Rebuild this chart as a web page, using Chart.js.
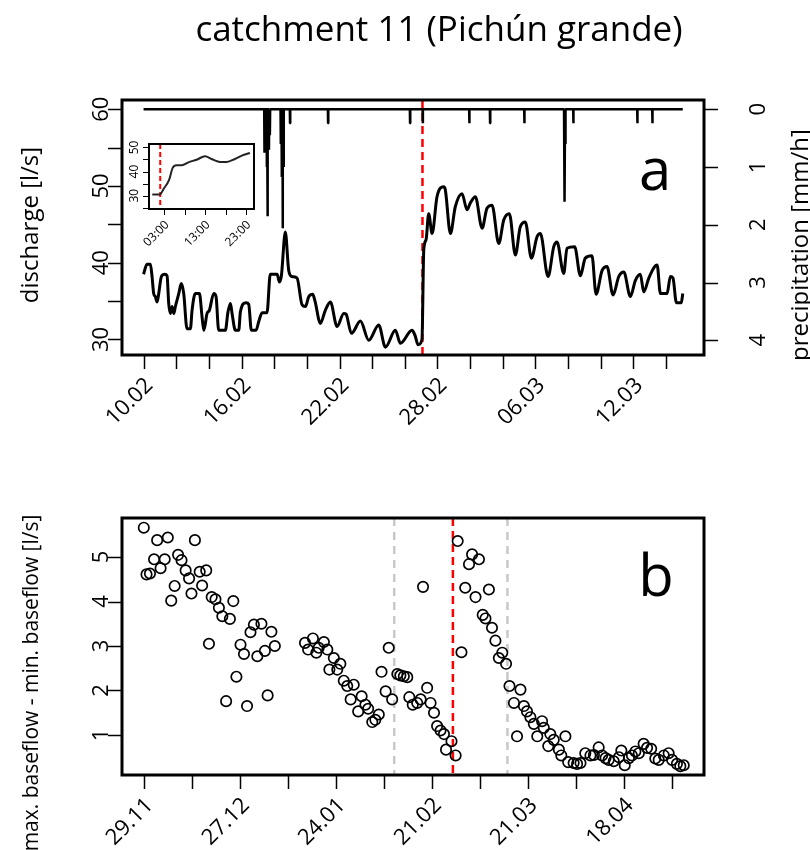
<!DOCTYPE html>
<html>
<head>
<meta charset="utf-8">
<script src="https://cdn.jsdelivr.net/npm/chart.js@4.4.1/dist/chart.umd.min.js"></script>
<style>
  body { margin: 0; background: #fff; }
  #wrap { position: relative; width: 810px; height: 850px; overflow: hidden; background: #fff; }
  canvas { position: absolute; }
  #topChart { left: 0; top: 0; }
  #bottomChart { left: 0; top: 440px; }
  #insetChart { left: 115px; top: 128px; }
</style>
</head>
<body>
<div id="wrap">
  <canvas id="topChart" width="810" height="440"></canvas>
  <canvas id="bottomChart" width="810" height="410"></canvas>
  <canvas id="insetChart" width="160" height="130"></canvas>
</div>
<script>
// ---- data (days since 10.02 for panel a, days since 29.11 for panel b) ----
const flowDays = [0,0.21,0.42,0.52,0.62,0.72,0.83,0.93,1.09,1.30,1.44,1.54,1.64,1.75,1.85,1.95,2.16,2.31,2.46,2.66,2.87,2.97,3.17,3.42,3.58,3.69,3.89,4.03,4.30,4.44,4.60,5.01,5.17,5.32,5.42,5.62,5.83,5.93,6.28,6.44,6.60,6.89,7.05,7.26,7.56,7.76,8.18,8.32,8.44,8.68,8.89,9.09,9.40,9.71,9.91,10.12,10.36,10.50,10.83,11.13,11.44,11.85,12.26,12.40,12.73,13.28,13.79,14.40,14.81,15.42,15.73,16.44,16.63,16.81,17.05,17.16,17.30,17.46,17.67,17.97,18.38,18.48,18.79,19.09,19.50,19.81,20.01,20.32,20.73,21.03,21.34,21.75,22.06,22.40,22.77,23.07,23.38,23.75,24.10,24.30,24.77,25.12,25.32,25.73,25.93,26.40,26.75,27.05,27.46,27.71,28.08,28.38,28.75,29.10,29.41,29.81,30.12,30.42,30.63,30.94,31.30,31.45,31.65,32.06,32.26,32.42,32.63,32.93,33.02];
const flowValues = [38.5,39.8,39.8,38.2,36.0,35.6,34.9,36.0,38.2,38.5,38.3,34.7,33.4,34.3,33.4,34.3,36.0,37.3,36.0,31.4,31.4,33.8,36.0,36.0,33.0,31.2,33.4,33.8,36.0,35.6,31.2,31.2,33.6,34.7,33.4,31.2,31.2,33.6,34.8,34.6,31.2,31.2,32.3,33.5,33.5,38.5,38.5,37.5,38.3,44.0,39.0,38.2,38.0,34.5,34.3,35.6,35.9,35.0,32.1,33.8,34.9,31.7,33.4,33.3,30.8,32.4,29.9,31.9,29.0,31.2,29.5,31.2,30.5,29.3,30.0,41.7,43.0,46.4,43.8,48.6,49.9,49.5,43.8,47.3,49.0,46.9,47.8,48.6,44.5,47.1,47.5,42.5,45.6,46.4,41.0,44.7,45.3,40.6,43.4,43.8,38.2,42.1,42.7,38.6,41.9,42.1,38.3,40.6,40.9,35.9,39.0,39.5,35.8,38.2,38.8,35.6,37.7,38.5,36.2,38.0,39.5,39.7,36.0,36.0,38.2,38.0,34.8,34.8,36.0];

const rainStart = 0;
const rainEnd = 33.02;
const rainSpikeDays = [7.40,7.48,7.55,7.60,7.68,7.74,8.40,8.46,8.52,8.58,8.97,11.30,16.32,17.10,19.95,21.22,23.32,25.76,25.80,25.84,26.32,30.24,31.16];
const rainSpikeValues = [0.75,0.70,1.00,1.85,0.70,0.45,0.60,1.17,2.06,1.00,0.24,0.24,0.24,0.24,0.24,0.24,0.24,0.70,1.60,0.60,0.24,0.24,0.24];

// zoom of the event day (hours of 27.02)
const insetHours = [0.06,1.95,2.75,4.2,5.05,6.0,7.3,8.9,10.9,13.0,14.6,16.7,18.3,20.3,22.0,24.0];
const insetValues = [30.5,30.5,32.6,36.7,41.5,42.6,42.6,43.8,44.9,46.3,45.2,44.0,44.0,45.2,46.6,47.7];

const rangeDays = [0.0,0.8,1.8,3.0,3.9,4.9,6.1,7.0,8.0,9.0,10.0,11.0,12.2,13.2,13.9,14.9,16.3,17.0,18.2,19.0,19.8,20.9,21.9,22.9,24.0,25.1,26.1,27.0,28.2,29.2,30.1,31.1,32.1,33.1,34.3,35.3,36.1,37.2,38.2,
  47.0,47.9,49.3,50.3,51.0,52.5,53.5,54.1,55.4,56.4,57.3,58.3,59.3,60.3,61.2,62.5,63.5,64.6,65.4,66.6,67.5,68.5,69.3,70.5,71.4,72.4,73.9,74.8,75.8,76.8,77.4,78.4,79.7,80.7,81.4,82.6,83.6,84.6,85.5,86.5,87.5,88.1,89.7,90.9,91.5,92.6,93.7,
  94.8,95.7,96.7,97.7,98.8,99.6,100.6,101.5,102.5,103.5,104.5,105.6,106.6,107.9,108.8,109.8,110.8,111.7,112.7,113.7,114.7,116.1,116.6,117.9,118.5,119.5,121.0,121.7,122.9,123.7,125.3,126.3,127.3,128.7,130.2,131.2,132.6,133.6,134.6,135.5,137.0,138.5,139.2,140.2,141.4,142.3,143.3,144.3,145.7,146.7,147.9,149.1,150.1,151.6,153.0,154.0,155.4,156.4,157.4];
const rangeValues = [5.66,4.61,4.63,4.95,5.38,4.75,4.95,5.44,4.02,4.35,5.05,4.93,4.70,4.52,4.18,5.38,4.67,4.36,4.70,3.05,4.10,4.05,3.86,3.67,1.76,3.61,4.01,2.31,3.03,2.82,1.65,3.31,3.48,2.77,3.50,2.89,1.89,3.32,3.00,
  3.07,2.92,3.17,2.85,2.96,3.09,2.92,2.47,2.73,2.47,2.60,2.22,2.10,1.80,2.13,1.53,1.87,1.68,1.59,1.29,1.34,1.46,2.42,1.98,2.96,1.80,2.37,2.34,2.32,2.30,1.85,1.68,1.72,1.80,4.33,2.06,1.72,1.50,1.20,1.10,1.02,0.67,0.86,0.54,5.36,2.86,4.31,
  4.84,5.06,4.10,4.95,3.70,3.62,4.27,3.41,3.12,2.73,2.85,2.60,2.10,1.72,0.97,2.02,1.65,1.53,1.40,1.25,0.97,1.31,1.16,0.75,1.02,0.89,0.67,0.54,0.97,0.39,0.37,0.35,0.37,0.59,0.54,0.55,0.72,0.54,0.48,0.44,0.41,0.50,0.65,0.32,0.48,0.54,0.63,0.59,0.80,0.71,0.69,0.47,0.44,0.54,0.59,0.44,0.35,0.30,0.32];

// axes
const topTickDays = [0,2,4,6,8,10,12,14,16,18,20,22,24,26,28,30,32];
const topLabelDays = [0,6,12,18,24,30];
const topLabels = ['10.02','16.02','22.02','28.02','06.03','12.03'];
const flowTicks = [30,35,40,45,50,55,60];
const flowLabelTicks = [30,40,50,60];
const rainTicks = [0,1,2,3,4];
const insetTickHours = [3,8,13,18,23];
const insetLabelHours = [3,13,23];
const insetLabels = ['03:00','13:00','23:00'];
const insetYTicks = [25,30,35,40,45,50];
const insetYLabelTicks = [30,40,50];
const bottomTickDays = [0,14,28,42,56,70,84,98,112,126,140,154];
const bottomLabelDays = [0,28,56,84,112,140];
const bottomLabels = ['29.11','27.12','24.01','21.02','21.03','18.04'];
const rangeTicks = [1,2,3,4,5];

// event markers
const eventDayTop = 17.08;        // 27.02 02:00
const eventHourInset = 2.0;
const eventDayBottom = 90.1;
const periodBounds = [73.0, 106.0]; // 10.02 and 15.03

const FONT = '"Open Sans", "DejaVu Sans", sans-serif';

// ---- drawing helpers (R-like axes) ----
function drawBox(ctx, a, w) {
    ctx.save();
    ctx.strokeStyle = '#000';
    ctx.lineWidth = w;
    ctx.strokeRect(a.left, a.top, a.right - a.left, a.bottom - a.top);
    ctx.restore();
}

function vDashed(ctx, x, y0, y1, color, dash, w) {
    ctx.save();
    ctx.strokeStyle = color;
    ctx.lineWidth = w;
    ctx.setLineDash(dash);
    ctx.beginPath();
    ctx.moveTo(x, y0);
    ctx.lineTo(x, y1);
    ctx.stroke();
    ctx.restore();
}

function xTicks(ctx, scale, y, values, len, w) {
    ctx.save();
    ctx.strokeStyle = '#000';
    ctx.lineWidth = w;
    values.forEach(v => {
        const x = Math.round(scale.getPixelForValue(v)) + 0.5;
        ctx.beginPath();
        ctx.moveTo(x, y);
        ctx.lineTo(x, y + len);
        ctx.stroke();
    });
    ctx.restore();
}

function yTicks(ctx, scale, x, values, len, w) {
    ctx.save();
    ctx.strokeStyle = '#000';
    ctx.lineWidth = w;
    values.forEach(v => {
        const y = Math.round(scale.getPixelForValue(v)) + 0.5;
        ctx.beginPath();
        ctx.moveTo(x, y);
        ctx.lineTo(x + len, y);
        ctx.stroke();
    });
    ctx.restore();
}

// labels rotated 45 degrees, right end at the tick
function xLabels45(ctx, scale, y, values, labels, font, dx) {
    ctx.save();
    ctx.fillStyle = '#000';
    ctx.font = font;
    ctx.textAlign = 'right';
    ctx.textBaseline = 'middle';
    values.forEach((v, i) => {
        ctx.save();
        ctx.translate(scale.getPixelForValue(v) + dx, y);
        ctx.rotate(-Math.PI / 4);
        ctx.fillText(labels[i], 0, 0);
        ctx.restore();
    });
    ctx.restore();
}

// labels parallel to a vertical axis (read bottom to top)
function yLabelsRot(ctx, scale, x, values, font) {
    ctx.save();
    ctx.fillStyle = '#000';
    ctx.font = font;
    ctx.textAlign = 'center';
    ctx.textBaseline = 'alphabetic';
    values.forEach(v => {
        ctx.save();
        ctx.translate(x, scale.getPixelForValue(v));
        ctx.rotate(-Math.PI / 2);
        ctx.fillText(String(v), 0, 0);
        ctx.restore();
    });
    ctx.restore();
}

function rotText(ctx, text, x, y, font) {
    ctx.save();
    ctx.fillStyle = '#000';
    ctx.font = font;
    ctx.textAlign = 'center';
    ctx.textBaseline = 'alphabetic';
    ctx.translate(x, y);
    ctx.rotate(-Math.PI / 2);
    ctx.fillText(text, 0, 0);
    ctx.restore();
}

function plainText(ctx, text, x, y, font) {
    ctx.save();
    ctx.fillStyle = '#000';
    ctx.font = font;
    ctx.textAlign = 'center';
    ctx.textBaseline = 'alphabetic';
    ctx.fillText(text, x, y);
    ctx.restore();
}

// ---- panel a ----
function buildRainPoints() {
    const pts = [{ x: rainStart, y: 0 }];
    rainSpikeDays.forEach((d, i) => {
        pts.push({ x: d - 0.012, y: 0 });
        pts.push({ x: d, y: rainSpikeValues[i] });
        pts.push({ x: d + 0.012, y: 0 });
    });
    pts.push({ x: rainEnd, y: 0 });
    return pts;
}

const hidden = { display: false };

const topDecor = {
    id: 'topDecor',
    beforeDatasetsDraw(chart) {
        const { ctx, chartArea: a, scales } = chart;
        vDashed(ctx, scales.x.getPixelForValue(eventDayTop), a.top, a.bottom, '#ff0000', [8, 5], 2.5);
    },
    afterDraw(chart) {
        const { ctx, chartArea: a, scales } = chart;
        drawBox(ctx, a, 3);
        xTicks(ctx, scales.x, a.bottom, topTickDays, 14, 1.5);
        yTicks(ctx, scales.y, a.left, flowTicks, -14, 1.5);
        yTicks(ctx, scales.y2, a.right, rainTicks, 14, 1.5);
        xLabels45(ctx, scales.x, a.bottom + 27, topLabelDays, topLabels, '22px ' + FONT, 6);
        yLabelsRot(ctx, scales.y, 108, flowLabelTicks, '22px ' + FONT);
        yLabelsRot(ctx, scales.y2, 765, rainTicks, '22px ' + FONT);
        rotText(ctx, 'discharge [l/s]', 38, 225, '24px ' + FONT);
        rotText(ctx, 'precipitation [mm/h]', 808, 245, '24px ' + FONT);
        plainText(ctx, 'catchment 11 (Pichún grande)', 439, 41, '35px ' + FONT);
        plainText(ctx, 'a', 655, 190, '58px ' + FONT);
    }
};

new Chart(document.getElementById('topChart'), {
    type: 'line',
    data: {
        datasets: [
            {
                data: flowDays.map((d, i) => ({ x: d, y: flowValues[i] })),
                yAxisID: 'y',
                borderColor: '#000',
                borderWidth: 3,
                pointRadius: 0,
                cubicInterpolationMode: 'monotone',
                borderJoinStyle: 'round'
            },
            {
                data: buildRainPoints(),
                yAxisID: 'y2',
                borderColor: '#000',
                borderWidth: 2.5,
                pointRadius: 0,
                tension: 0,
                borderJoinStyle: 'bevel'
            }
        ]
    },
    options: {
        responsive: false,
        animation: false,
        devicePixelRatio: 1,
        layout: { padding: { left: 122, top: 100, right: 106, bottom: 85 } },
        plugins: { legend: { display: false }, tooltip: { enabled: false } },
        scales: {
            x: { type: 'linear', min: -1.32, max: 34.32, ...hidden },
            y: { type: 'linear', position: 'left', min: 27.98, max: 61.21, ...hidden },
            y2: { type: 'linear', axis: 'y', position: 'right', min: -0.161, max: 4.254, reverse: true, ...hidden }
        }
    },
    plugins: [topDecor]
});

// ---- inset ----
const insetDecor = {
    id: 'insetDecor',
    beforeDatasetsDraw(chart) {
        const { ctx, chartArea: a, scales } = chart;
        vDashed(ctx, scales.x.getPixelForValue(eventHourInset), a.top, a.bottom, '#ff0000', [5, 3], 2);
    },
    afterDraw(chart) {
        const { ctx, chartArea: a, scales } = chart;
        drawBox(ctx, a, 2);
        xTicks(ctx, scales.x, a.bottom, insetTickHours, 6, 1);
        yTicks(ctx, scales.y, a.left, insetYTicks, -6, 1);
        xLabels45(ctx, scales.x, a.bottom + 14, insetLabelHours, insetLabels, '12px ' + FONT, 3);
        yLabelsRot(ctx, scales.y, 23, insetYLabelTicks, '12px ' + FONT);
    }
};

new Chart(document.getElementById('insetChart'), {
    type: 'line',
    data: {
        datasets: [{
            data: insetHours.map((h, i) => ({ x: h, y: insetValues[i] })),
            borderColor: '#222',
            borderWidth: 2,
            pointRadius: 0,
            cubicInterpolationMode: 'monotone'
        }]
    },
    options: {
        responsive: false,
        animation: false,
        devicePixelRatio: 1,
        layout: { padding: { left: 34, top: 16, right: 21, bottom: 49 } },
        plugins: { legend: { display: false }, tooltip: { enabled: false } },
        scales: {
            x: { type: 'linear', min: -0.75, max: 24.98, ...hidden },
            y: { type: 'linear', min: 24.5, max: 51.4, ...hidden }
        }
    },
    plugins: [insetDecor]
});

// ---- panel b ----
const bottomDecor = {
    id: 'bottomDecor',
    beforeDatasetsDraw(chart) {
        const { ctx, chartArea: a, scales } = chart;
        periodBounds.forEach(d => {
            vDashed(ctx, scales.x.getPixelForValue(d), a.top, a.bottom, '#c8c8c8', [8, 6], 2.5);
        });
        vDashed(ctx, scales.x.getPixelForValue(eventDayBottom), a.top, a.bottom, '#ff0000', [8, 5], 2.5);
    },
    afterDraw(chart) {
        const { ctx, chartArea: a, scales } = chart;
        drawBox(ctx, a, 3);
        xTicks(ctx, scales.x, a.bottom, bottomTickDays, 14, 1.5);
        yTicks(ctx, scales.y, a.left, rangeTicks, -14, 1.5);
        xLabels45(ctx, scales.x, a.bottom + 27, bottomLabelDays, bottomLabels, '22px ' + FONT, 6);
        yLabelsRot(ctx, scales.y, 108, rangeTicks, '22px ' + FONT);
        rotText(ctx, 'max. baseflow - min. baseflow [l/s]', 38, 243, '21px ' + FONT);
        plainText(ctx, 'b', 656, 156, '58px ' + FONT);
    }
};

new Chart(document.getElementById('bottomChart'), {
    type: 'scatter',
    data: {
        datasets: [{
            data: rangeDays.map((d, i) => ({ x: d, y: rangeValues[i] })),
            pointStyle: 'circle',
            pointRadius: 5.2,
            pointBorderWidth: 1.7,
            pointBorderColor: '#000',
            pointBackgroundColor: 'rgba(0,0,0,0)'
        }]
    },
    options: {
        responsive: false,
        animation: false,
        devicePixelRatio: 1,
        layout: { padding: { left: 122, top: 78, right: 106, bottom: 75 } },
        plugins: { legend: { display: false }, tooltip: { enabled: false } },
        scales: {
            x: { type: 'linear', min: -6.35, max: 163.3, ...hidden },
            y: { type: 'linear', min: 0.1, max: 5.878, ...hidden }
        }
    },
    plugins: [bottomDecor]
});
</script>
</body>
</html>
